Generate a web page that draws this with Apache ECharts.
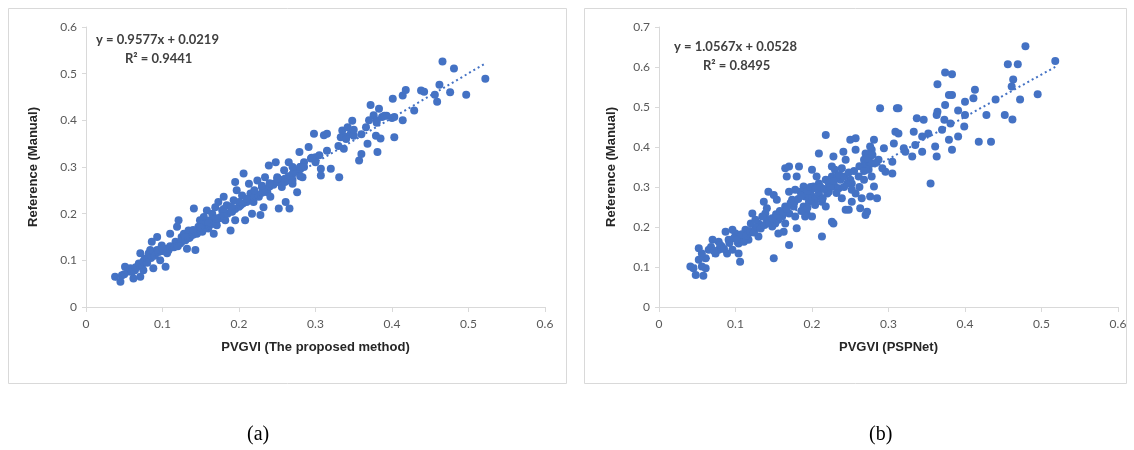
<!DOCTYPE html>
<html>
<head>
<meta charset="utf-8">
<script src="https://cdn.jsdelivr.net/npm/echarts@6/dist/echarts.min.js"></script>
<style>
  html, body { margin: 0; padding: 0; background: #fff; }
  #main { width: 1134px; height: 450px; }
</style>
</head>
<body>
<div id="main"></div>
<script>
// (a) PVGVI (The proposed method) vs Reference (Manual)
var pointsA = [
  [.038,.065],[.045,.054],[.047,.068],[.051,.086],[.055,.076],[.058,.083],[.062,.061],[.064,.079],
  [.069,.093],[.071,.065],[.073,.086],[.075,.079],[.071,.115],[.077,.104],[.082,.115],[.084,.122],
  [.086,.140],[.088,.083],[.093,.150],[.093,.122],[.097,.100],[.099,.132],[.104,.086],[.106,.115],
  [.108,.122],[.110,.157],[.112,.129],[.117,.140],[.119,.172],[.121,.186],[.123,.136],[.125,.150],
  [.128,.157],[.132,.125],[.134,.164],[.136,.150],[.141,.211],[.143,.122],[.145,.157],[.147,.172],
  [.149,.186],[.152,.161],[.154,.193],[.156,.179],[.158,.207],[.160,.168],[.162,.186],[.165,.200],
  [.167,.157],[.169,.214],[.171,.175],[.173,.225],[.176,.193],[.178,.207],[.180,.236],[.182,.186],
  [.184,.218],[.189,.164],[.191,.204],[.193,.229],[.195,.186],[.195,.268],[.197,.250],[.202,.218],
  [.204,.239],[.206,.286],[.208,.186],[.211,.229],[.213,.264],[.215,.243],[.217,.200],[.219,.225],
  [.224,.271],[.226,.236],[.228,.197],[.230,.257],[.232,.214],[.234,.278],[.237,.246],[.239,.303],
  [.241,.236],[.245,.264],[.248,.310],[.250,.278],[.252,.211],[.254,.271],[.256,.257],[.259,.293],
  [.261,.225],[.263,.271],[.265,.310],[.266,.211],[.270,.264],[.272,.293],[.276,.246],[.279,.332],
  [.280,.300],[.283,.278],[.285,.310],[.291,.343],[.294,.318],[.298,.371],[.300,.321],[.305,.325],
  [.307,.296],[.307,.282],[.311,.368],[.315,.371],[.320,.296],[.331,.278],[.333,.364],[.335,.378],
  [.337,.339],[.342,.385],[.346,.371],[.348,.399],[.350,.367],[.357,.314],[.360,.328],[.366,.385],
  [.368,.350],[.372,.433],[.376,.411],[.379,.367],[.381,.332],[.383,.425],[.385,.361],[.387,.407],
  [.393,.410],[.403,.407],[.403,.364],[.401,.446],[.414,.400],[.414,.453],[.418,.465],[.429,.421],
  [.438,.464],[.442,.461],[.456,.455],[.459,.440],[.462,.476],[.466,.526],[.476,.460],[.481,.511],
  [.497,.455],[.522,.489],
  [.050,.070],[.060,.075],[.065,.085],[.070,.090],[.075,.098],[.080,.100],[.085,.105],[.090,.110],
  [.095,.118],[.100,.120],[.105,.125],[.110,.130],[.115,.128],[.120,.135],[.125,.140],[.130,.143],
  [.135,.148],[.140,.155],[.145,.160],[.150,.163],[.155,.168],[.160,.175],[.165,.178],[.170,.182],
  [.175,.190],[.180,.195],[.185,.200],[.190,.205],[.195,.210],[.200,.215],[.205,.222],[.210,.225],
  [.215,.230],[.220,.235],[.225,.240],[.230,.245],[.235,.252],[.240,.258],[.245,.262],[.250,.268],
  [.255,.272],[.260,.275],[.265,.280],[.270,.285],[.275,.290],[.280,.295],[.285,.300],[.190,.215],
  [.210,.232],[.230,.260],[.250,.275],[.270,.272],[.170,.190],[.150,.170],[.130,.150],[.120,.130],
  [.100,.125],[.080,.095],[.200,.225],[.220,.250],[.240,.265],[.260,.268],[.280,.300],[.180,.210],
  [.160,.180],[.140,.165],[.270,.300],[.280,.280],[.340,.365],[.350,.380],[.360,.370],[.380,.400],
  [.380,.395],[.370,.400],[.390,.410],[.340,.360],[.330,.345],[.315,.335],[.300,.310],[.295,.320],
  [.400,.405]
];
var trendA = [0.9577, 0.0219];
var r2A = 0.9441;

// (b) PVGVI (PSPNet) vs Reference (Manual)
var pointsB = [
  [.479,.652],[.518,.615],[.456,.607],[.469,.607],[.463,.569],[.461,.551],[.472,.519],[.495,.532],
  [.452,.480],[.462,.469],[.440,.519],[.428,.480],[.434,.413],[.418,.413],[.413,.543],[.411,.522],
  [.400,.513],[.400,.480],[.399,.451],[.391,.491],[.391,.426],[.383,.530],[.379,.530],[.374,.586],
  [.383,.582],[.364,.557],[.374,.505],[.364,.488],[.363,.480],[.373,.468],[.381,.459],[.370,.443],
  [.379,.418],[.383,.393],[.361,.401],[.363,.376],[.355,.309],[.352,.434],[.346,.468],[.337,.472],
  [.344,.426],[.333,.438],[.335,.405],[.344,.388],[.331,.376],[.320,.397],[.309,.438],[.313,.434],
  [.307,.409],[.311,.497],[.313,.497],[.289,.497],[.294,.397],[.305,.363],[.305,.334],[.296,.338],
  [.292,.347],[.281,.418],[.278,.393],[.276,.376],[.274,.359],[.270,.384],[.268,.368],[.266,.351],
  [.278,.326],[.281,.301],[.285,.272],[.276,.276],[.270,.230],[.272,.238],[.263,.247],[.265,.272],
  [.257,.284],[.252,.309],[.252,.263],[.250,.318],[.257,.393],[.250,.418],[.257,.422],[.241,.388],
  [.244,.368],[.239,.347],[.237,.318],[.235,.297],[.239,.272],[.244,.243],[.248,.243],[.228,.376],
  [.226,.351],[.230,.343],[.226,.326],[.230,.301],[.222,.288],[.218,.430],[.209,.384],[.209,.309],
  [.206,.326],[.213,.263],[.218,.318],[.220,.284],[.213,.176],[.226,.213],[.228,.209],[.200,.343],
  [.202,.301],[.198,.284],[.196,.263],[.204,.255],[.193,.234],[.191,.226],[.200,.226],[.183,.351],
  [.170,.351],[.165,.347],[.167,.326],[.180,.326],[.189,.301],[.191,.276],[.185,.288],[.178,.293],
  [.174,.268],[.170,.288],[.176,.251],[.170,.234],[.165,.251],[.161,.226],[.156,.218],[.152,.209],
  [.148,.201],[.154,.268],[.143,.288],[.150,.280],[.180,.197],[.170,.155],[.150,.122],[.163,.188],
  [.139,.234],[.141,.218],[.135,.226],[.130,.209],[.126,.197],[.122,.234],[.120,.209],[.117,.184],
  [.113,.193],[.109,.176],[.106,.113],[.104,.159],[.100,.184],[.096,.193],[.091,.168],[.087,.188],
  [.082,.151],[.078,.163],[.074,.134],[.070,.168],[.065,.143],[.061,.122],[.056,.134],[.052,.147],
  [.052,.118],[.045,.097],[.041,.101],[.048,.080],[.061,.097],[.058,.078],[.056,.101],[.137,.263],
  [.141,.247],[.126,.218],[.117,.168],[.096,.143],[.078,.143],[.089,.134],[.111,.163],[.178,.226],
  [.189,.251],[.200,.276],[.209,.284],[.222,.309],[.233,.326],[.246,.309],[.261,.326],[.274,.343],
  [.278,.359],[.276,.401],[.287,.368],[.322,.388],[.252,.293],[.218,.251],[.165,.209],[.156,.184],
  [.130,.176],[.104,.134],
  [.068,.150],[.072,.140],[.080,.155],[.085,.145],[.092,.160],[.098,.172],[.102,.168],[.108,.182],
  [.114,.178],[.119,.190],[.124,.186],[.128,.200],[.133,.196],[.138,.205],[.144,.210],[.148,.222],
  [.153,.232],[.158,.240],[.162,.238],[.167,.245],[.172,.260],[.177,.262],[.182,.270],[.186,.278],
  [.194,.290],[.198,.300],[.205,.296],[.211,.300],[.216,.295],[.224,.300],[.228,.315],[.236,.330],
  [.242,.326],[.248,.336],[.255,.340],[.262,.352],[.268,.340],[.272,.372],[.279,.380],[.283,.360],
  [.186,.240],[.194,.248],[.204,.270],[.214,.272],[.232,.285],[.242,.300],[.262,.300],[.268,.318]
];
var trendB = [1.0567, 0.0528];
var r2B = 0.8495;

var xTicks = [0, 0.6, 0.1];
var yMaxA = 0.6;
var yMaxB = 0.7;

var blue = '#4472C4';

function trendLine(pts, coef) {
  var xs = pts.map(function (p) { return p[0]; });
  var lo = Math.min.apply(null, xs), hi = Math.max.apply(null, xs);
  return [[lo, coef[0] * lo + coef[1]], [hi, coef[0] * hi + coef[1]]];
}

function xAxis(idx, name) {
  return {
    gridIndex: idx, type: 'value', min: xTicks[0], max: xTicks[1], interval: xTicks[2],
    name: name, nameLocation: 'middle', nameGap: 34,
    nameTextStyle: { fontFamily: 'Liberation Sans', fontWeight: 'bold', fontSize: 13, color: '#262626' },
    axisLine: { lineStyle: { color: '#d9d9d9', width: 1 } },
    axisTick: { show: true, length: 5, lineStyle: { color: '#d9d9d9' } },
    axisLabel: { color: '#595959', fontFamily: 'Lato', fontSize: 12, margin: 11 },
    splitLine: { show: false }
  };
}

function yAxis(idx, max, gap) {
  return {
    gridIndex: idx, type: 'value', min: 0, max: max, interval: 0.1,
    name: 'Reference (Manual)', nameLocation: 'middle', nameGap: gap,
    nameTextStyle: { fontFamily: 'Liberation Sans', fontWeight: 'bold', fontSize: 13, color: '#262626' },
    axisLine: { show: true, lineStyle: { color: '#d9d9d9', width: 1 } },
    axisTick: { show: true, length: 4, lineStyle: { color: '#d9d9d9' } },
    axisLabel: { color: '#595959', fontFamily: 'Lato', fontSize: 12, margin: 9 },
    splitLine: { show: false }
  };
}

function eqText(x, y, coef, r2) {
  return [
    { type: 'text', left: x, top: y,
      style: { text: 'y = ' + coef[0].toFixed(4) + 'x + ' + coef[1].toFixed(4),
        font: 'bold 13px Lato', fill: '#404040' } },
    { type: 'text', left: x + 29, top: y + 19,
      style: { text: 'R\u00b2 = ' + r2.toFixed(4), font: 'bold 13px Lato', fill: '#404040' } }
  ];
}

var chart = echarts.init(document.getElementById('main'));
chart.setOption({
  backgroundColor: '#fff',
  animation: false,
  grid: [
    { left: 86, top: 27, width: 459, height: 280 },
    { left: 659, top: 27, width: 459, height: 280 }
  ],
  xAxis: [xAxis(0, 'PVGVI (The proposed method)'), xAxis(1, 'PVGVI (PSPNet)')],
  yAxis: [yAxis(0, yMaxA, 46), yAxis(1, yMaxB, 41)],
  series: [
    { type: 'scatter', xAxisIndex: 0, yAxisIndex: 0, data: pointsA, symbolSize: 8,
      itemStyle: { color: blue, opacity: 1 } },
    { type: 'line', xAxisIndex: 0, yAxisIndex: 0, data: trendLine(pointsA, trendA), symbol: 'none',
      lineStyle: { color: blue, width: 2, type: [2, 3] }, z: 3 },
    { type: 'scatter', xAxisIndex: 1, yAxisIndex: 1, data: pointsB, symbolSize: 8,
      itemStyle: { color: blue, opacity: 1 } },
    { type: 'line', xAxisIndex: 1, yAxisIndex: 1, data: trendLine(pointsB, trendB), symbol: 'none',
      lineStyle: { color: blue, width: 2, type: [2, 3] }, z: 3 }
  ],
  graphic: [
    { type: 'rect', shape: { x: 8.5, y: 8.5, width: 558, height: 375 },
      style: { fill: 'none', stroke: '#d9d9d9', lineWidth: 1 }, z: -1 },
    { type: 'rect', shape: { x: 584.5, y: 8.5, width: 542, height: 375 },
      style: { fill: 'none', stroke: '#d9d9d9', lineWidth: 1 }, z: -1 },
    { type: 'text', left: 247, top: 425,
      style: { text: '(a)', font: '20px "Liberation Serif"', fill: '#000' } },
    { type: 'text', left: 869, top: 425,
      style: { text: '(b)', font: '20px "Liberation Serif"', fill: '#000' } }
  ].concat(eqText(96, 33, trendA, r2A), eqText(674, 40, trendB, r2B))
});
</script>
</body>
</html>
